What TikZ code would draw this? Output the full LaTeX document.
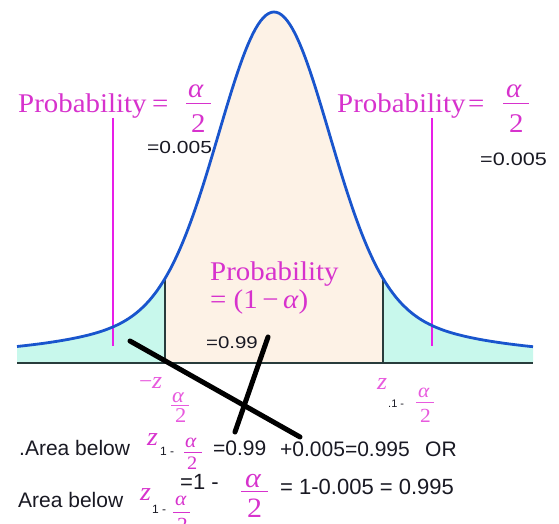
\documentclass[tikz,border=0pt]{standalone}
\usepackage{fontspec}
\newfontfamily\serifmag{Liberation Serif}[FakeStretch=1.07]
\newfontfamily\sansplain{Liberation Sans}
\newfontfamily\sanswide{Liberation Sans}[FakeStretch=1.2]
\definecolor{magc}{RGB}{215,50,205}
\definecolor{magl}{RGB}{232,90,222}
\definecolor{magline}{RGB}{232,30,232}
\definecolor{curvec}{RGB}{25,85,205}
\definecolor{beigec}{RGB}{253,242,230}
\definecolor{cyanc}{RGB}{200,248,236}
\definecolor{axisc}{RGB}{40,60,60}
\definecolor{txtc}{RGB}{25,25,35}
\tikzset{
  magtext/.style={text=magc, inner sep=0pt, anchor=base west, font=\serifmag\fontsize{#1}{#1}\selectfont},
  magtext/.default=27,
  magital/.style={text=magc, inner sep=0pt, anchor=base west, font=\serifmag\itshape\fontsize{#1}{#1}\selectfont},
  magital/.default=27,
  lightital/.style={text=magl, inner sep=0pt, anchor=base west, font=\serifmag\itshape\fontsize{#1}{#1}\selectfont},
  lighttext/.style={text=magl, inner sep=0pt, anchor=base west, font=\serifmag\fontsize{#1}{#1}\selectfont},
  blk/.style={text=txtc, inner sep=0pt, anchor=base west, font=\sansplain\fontsize{#1}{#1}\selectfont},
  blkwide/.style={text=txtc, inner sep=0pt, anchor=base west, font=\sanswide\fontsize{#1}{#1}\selectfont},
  fracbar/.style={draw=magc, line width=1pt},
  lfracbar/.style={draw=magl, line width=0.9pt},
  crossline/.style={draw=black, line width=5pt, line cap=round},
  tickline/.style={draw=magline, line width=1.6pt},
  boundline/.style={draw=axisc, line width=1.3pt},
}
\begin{document}
\begin{tikzpicture}[x=1pt,y=-1pt,
  declare function={uu(\x)=(\x-274)/100;
                    gg(\x)=0.73*exp(-1.715*uu(\x)*uu(\x))+0.27/(1+uu(\x)*uu(\x)/1.3924);
                    cy(\x)=363-351*gg(\x);}]
\useasboundingbox (0,0) rectangle (559,524);
\fill[white] (0,0) rectangle (559,524);
% fills
\fill[cyanc] plot[domain=17:165,samples=60] (\x,{cy(\x)}) -- (165,363) -- (17,363) -- cycle;
\fill[beigec] plot[domain=165:383,samples=120] (\x,{cy(\x)}) -- (383,363) -- (165,363) -- cycle;
\fill[cyanc] plot[domain=383:533,samples=60] (\x,{cy(\x)}) -- (533,363) -- (383,363) -- cycle;
% boundaries
\draw[boundline] (165,363) -- (165,{cy(165)});
\draw[boundline] (383,363) -- (383,{cy(383)});
\draw[axisc, line width=2pt] (17,363) -- (533,363);
% magenta ticks
\draw[tickline] (113,118) -- (113,346);
\draw[tickline] (432,118) -- (432,346);
% curve
\draw[curvec, line width=2.8pt, line join=round] plot[domain=17:533,samples=200] (\x,{cy(\x)});
% left label
\node[magtext] (pl) at (18,113) {Probability};
\node[magtext] (pleq) at (152,113) {=};
\node[magital] (plnum) at (188,98) {α};
\draw[fracbar] (186,104) -- (211,104);
\node[magtext] (plden) at (191,132) {2};
\node[blkwide=17.5] (vl) at (147,153) {=0.005};
% right label
\node[magtext] (pr) at (337,113) {Probability};
\node[magtext] (preq) at (468,113) {=};
\node[magital] (prnum) at (506,98) {α};
\draw[fracbar] (503,104) -- (529,104);
\node[magtext] (prden) at (509,132) {2};
\node[blkwide=18] (vr) at (480,165) {=0.005};
% center
\node[magtext] (pc1) at (210,280) {Probability};
\node[magtext] (pc2) at (210,308) {= (1\,−\,\textit{α})};
\node[blkwide=17] (v99) at (206,348) {=0.99};
% crossing lines
\coordinate (la1) at (130,341);
\coordinate (la2) at (300,437);
\coordinate (lb1) at (268,337);
\coordinate (lb2) at (235,432);
\draw[crossline] (la1) -- (la2);
\draw[crossline] (lb1) -- (lb2);
% -z alpha/2
\node[lighttext=22] (mzm) at (139,388) {−};
\node[lightital=24] (mz) at (152,388) {z};
\node[lightital=21] (mznum) at (172,402) {α};
\draw[lfracbar] (171,405) -- (189,405);
\node[lighttext=21] (mzden) at (175,422) {2};
% z 1-alpha/2
\node[lightital=24] (rz) at (377,389) {z};
\node[blk=11] (rzsub) at (388,407) {.1 -};
\node[lightital=20] (rznum) at (418,397) {α};
\draw[lfracbar] (416,402) -- (434,402);
\node[lighttext=20] (rzden) at (420,422) {2};
% bottom line 1
\node[blk=21] (a1) at (19,455) {.Area below};
\node[magital=26] (a1z) at (147,445) {z};
\node[blk=12] (a1s) at (160,455) {1 -};
\node[magital=20] (a1num) at (185,447) {α};
\draw[fracbar] (184,452) -- (202,452);
\node[magtext=19] (a1den) at (187,469) {2};
\node[blk=21] (a1v) at (213,455) {=0.99};
\node[blk=21] (a1w) at (280,456) {+0.005=0.995};
\node[blk=21] (a1or) at (425,456) {OR};
% bottom line 2
\node[blk=21] (a2) at (18,507) {Area below};
\node[magital=26] (a2z) at (140,500) {z};
\node[blk=12] (a2s) at (152,513) {1 -};
\node[magital=20] (a2num) at (175,505) {α};
\draw[fracbar] (173,512) -- (190,512);
\node[magtext=20] (a2den) at (177,531) {2};
\node[blk=22] (a2e) at (180,489) {=1 -};
\node[magital=28] (a2bnum) at (245,487) {α};
\draw[fracbar] (241,491) -- (268,491);
\node[magtext=28] (a2bden) at (247,517) {2};
\node[blk=22] (a2v) at (280,494) {= 1-0.005 = 0.995};
\end{tikzpicture}
\end{document}
